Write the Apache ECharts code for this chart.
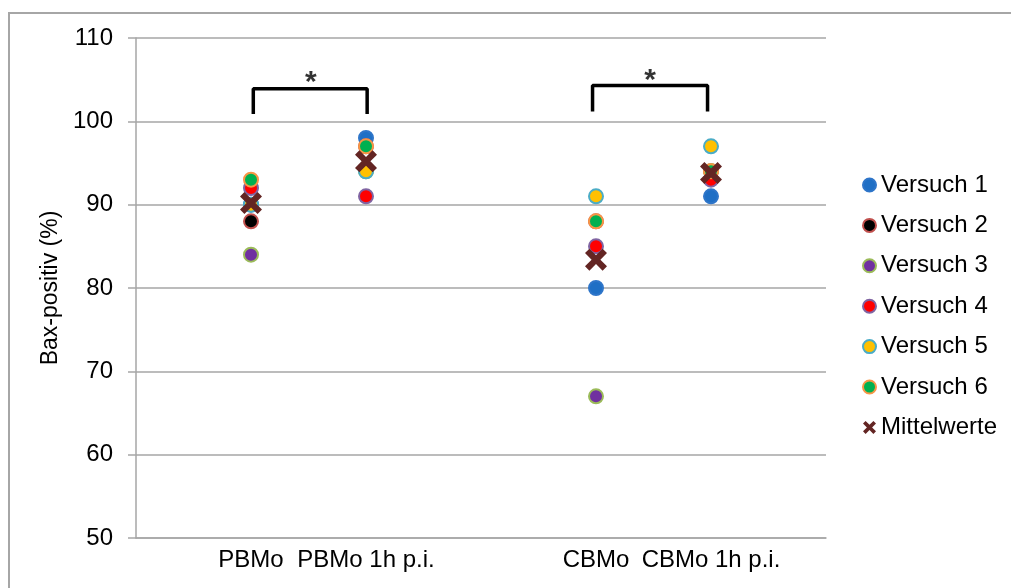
<!DOCTYPE html>
<html>
<head>
<meta charset="utf-8">
<script src="https://cdn.jsdelivr.net/npm/echarts@6/dist/echarts.min.js"></script>
<style>
  html, body { margin: 0; padding: 0; background: #fff; }
  #chart { width: 1011px; height: 588px; }
</style>
</head>
<body>
<div id="chart"></div>
<script>
// x position of each group on the value axis, and its label
const groupX = [1, 2, 4, 5];
const groupNames = ['PBMo', 'PBMo 1h p.i.', 'CBMo', 'CBMo 1h p.i.'];

// Bax-positive cells (%) per experiment, one value per group
const versuch1 = [90, 98, 80, 91];
const versuch2 = [88, 97, 88, 94];
const versuch3 = [84, 94, 67, 94];
const versuch4 = [92, 91, 85, 93];
const versuch5 = [90, 94, 91, 97];
const versuch6 = [93, 97, 88, 94];
const mittelwerte = [90.2, 95.2, 83.4, 93.8];

// significance brackets and stars
const bracket1 = [[1.02, 101.1], [1.02, 103.9], [2.01, 103.9], [2.01, 101.1]];
const bracket2 = [[3.97, 101.4], [3.97, 104.3], [4.97, 104.3], [4.97, 101.4]];
const stars = [[1.52, 105.4], [4.47, 105.6]];

const FONT = "'Liberation Sans', Arial, sans-serif";
const X_PATH = 'path://M2,0 L5,3 L8,0 L10,2 L7,5 L10,8 L8,10 L5,7 L2,10 L0,8 L3,5 L0,2 Z';

const markers = [
   { name: 'Versuch 1', data: versuch1, fill: '#1f6fc5', border: '#2e75c9' },
   { name: 'Versuch 2', data: versuch2, fill: '#000000', border: '#c0504d' },
   { name: 'Versuch 3', data: versuch3, fill: '#7030a0', border: '#9bbb59' },
   { name: 'Versuch 4', data: versuch4, fill: '#ff0000', border: '#8064a2' },
   { name: 'Versuch 5', data: versuch5, fill: '#ffc000', border: '#4bacc6' },
   { name: 'Versuch 6', data: versuch6, fill: '#00b050', border: '#f79646' },
];

const toPoints = (vals) => vals.map((v, i) => [groupX[i], v]);

let series = markers.map((m) => ({
   type: 'scatter',
   name: m.name,
   symbol: 'circle',
   symbolSize: 14,
   data: toPoints(m.data),
   itemStyle: { color: m.fill, borderColor: m.border, borderWidth: 2, opacity: 1 },
}));

series.push({
   type: 'scatter',
   name: 'Mittelwerte',
   symbol: X_PATH,
   symbolSize: 22,
   data: toPoints(mittelwerte),
   itemStyle: { color: '#632523', opacity: 1 },
});

[bracket1, bracket2].forEach((b) => {
   series.push({
      type: 'line',
      data: b,
      symbol: 'none',
      silent: true,
      lineStyle: { color: '#000', width: 3.5, cap: 'square' },
      z: 1,
   });
});

series.push({
   type: 'scatter',
   data: stars,
   symbolSize: 0,
   silent: true,
   label: {
      show: true,
      position: 'inside',
      formatter: '*',
      fontSize: 30,
      fontWeight: 'bold',
      fontFamily: FONT,
      color: '#000',
      offset: [0, 6],
   },
});

const chart = echarts.init(document.getElementById('chart'));
chart.setOption({
   animation: false,
   backgroundColor: '#fff',
   grid: { left: 136, right: 185, top: 38, bottom: 50 },
   graphic: [
      {
         type: 'rect',
         shape: { x: 9, y: 13, width: 1100, height: 700 },
         style: { fill: 'none', stroke: '#a6a6a6', lineWidth: 2 },
         silent: true,
      },
   ],
   legend: {
      orient: 'vertical',
      left: 857,
      top: 167,
      itemWidth: 13,
      itemHeight: 13,
      itemGap: 14.4,
      data: ['Versuch 1', 'Versuch 2', 'Versuch 3', 'Versuch 4', 'Versuch 5', 'Versuch 6', 'Mittelwerte'],
      textStyle: { fontSize: 24, fontFamily: FONT, color: '#000', lineHeight: 26 },
   },
   xAxis: {
      type: 'value',
      min: 0,
      max: 6,
      interval: 1,
      splitLine: { show: false },
      axisTick: { show: false },
      axisLine: { lineStyle: { color: '#a6a6a6', width: 1.5 } },
      axisLabel: {
         fontSize: 24,
         fontFamily: FONT,
         color: '#000',
         margin: 10,
         formatter: (v) => {
            const i = groupX.indexOf(v);
            return i >= 0 ? groupNames[i] : '';
         },
      },
   },
   yAxis: {
      type: 'value',
      min: 50,
      max: 110,
      interval: 10,
      name: 'Bax-positiv (%)',
      nameLocation: 'middle',
      nameGap: 72,
      nameTextStyle: { fontSize: 23, fontFamily: FONT, color: '#000' },
      axisLine: { show: true, lineStyle: { color: '#a6a6a6', width: 1.5 } },
      axisTick: { show: true, length: 8, lineStyle: { color: '#a6a6a6', width: 1.5 } },
      splitLine: { lineStyle: { color: '#a6a6a6', width: 1.5 } },
      axisLabel: { fontSize: 24, fontFamily: FONT, color: '#000', margin: 23 },
   },
   series: series,
});
</script>
</body>
</html>
